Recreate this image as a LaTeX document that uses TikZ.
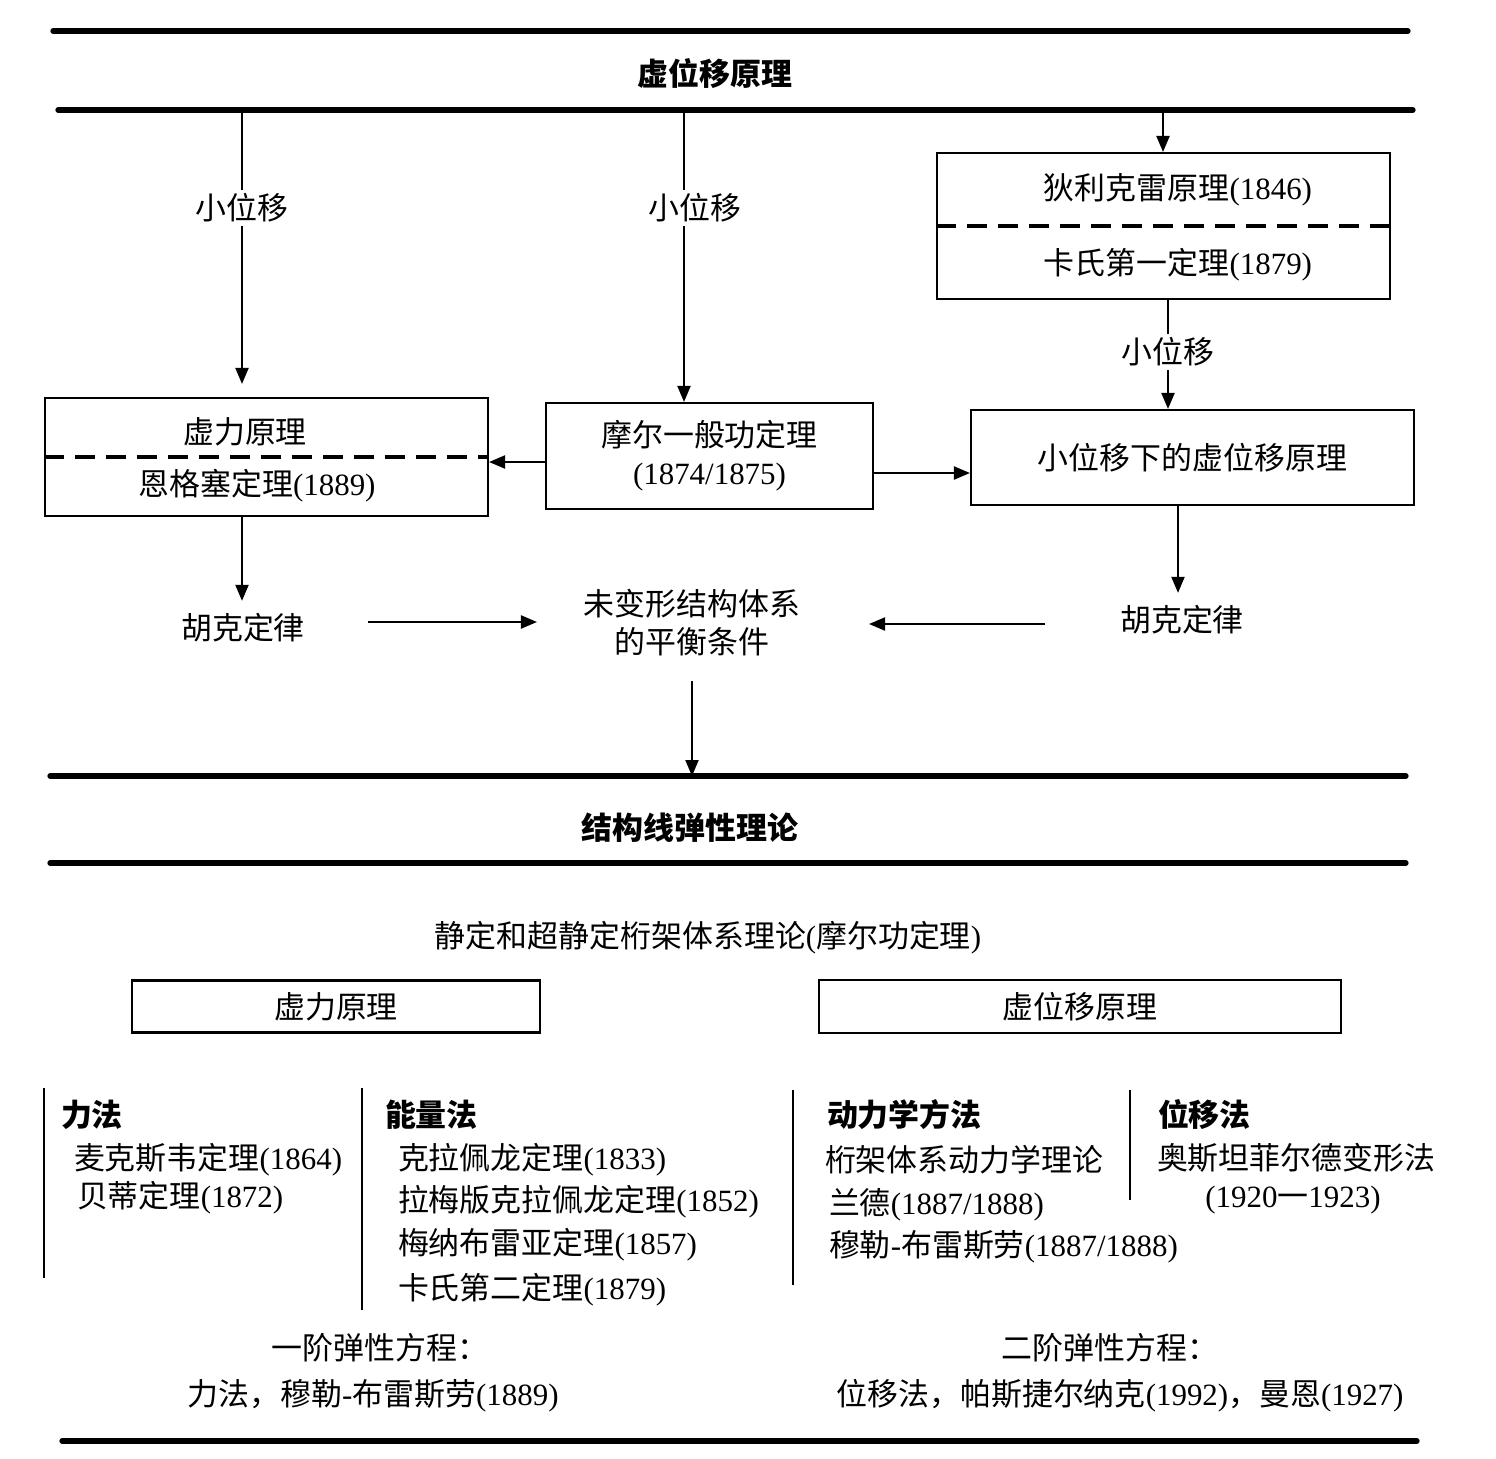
\documentclass[tikz,border=0pt]{standalone}
\usepackage{fontspec}
\setmainfont{Liberation Serif}
\newfontfamily\cjk{Noto Sans CJK SC}
\newcommand{\zh}[1]{{\cjk #1}}
\usetikzlibrary{arrows.meta}

\begin{document}
\begin{tikzpicture}[x=0.1mm, y=-0.1mm,
    >={Triangle[length=1.6mm, width=1.3mm]},
    font=\fontsize{8.8pt}{10.8pt}\selectfont, line width=0.6pt,
    rule/.style={line width=1.5pt, line cap=round},
    title/.style={font=\fontsize{8.8pt}{10.8pt}\selectfont\bfseries},
    divider/.style={line width=1.2pt, dash pattern=on 2mm off 1.1mm},
    item/.style={anchor=west, inner sep=0pt},
    lbl/.style={fill=white, inner sep=1pt}]
    \useasboundingbox (0,0) rectangle (1496,1459);

    % top band
    \draw [rule] (53,31) -- (1408,31);
    \path (715,74) node [title] (vp) {\zh{虚位移原理}};
    \draw [rule] (58,110) -- (1413,110);
    \path (242,110) coordinate (s1) (684,110) coordinate (s2) (1163,110) coordinate (s3);

    % boxes
    \path (266.5,457) node [draw, minimum width=44.3mm, minimum height=11.8mm] (vl) {};
    \draw [divider] (vl.west) -- (vl.east);
    \path (245,432) node (vl1) {\zh{虚力原理}};
    \path (257,486) node (vl2) {\zh{恩格塞定理}(1889)};

    \path (709.5,456) node [draw, minimum width=32.7mm, minimum height=10.6mm,
	align=center] (mo) {\zh{摩尔一般功定理}\\(1874/1875)};

    \path (1163.5,226) node [draw, minimum width=45.3mm, minimum height=14.6mm] (di) {};
    \draw [divider] (di.west) -- (di.east);
    \path (1178,190) node (di1) {\zh{狄利克雷原理}(1846)};
    \path (1178,265) node (di2) {\zh{卡氏第一定理}(1879)};

    \path (1192.5,457.5) node [draw, minimum width=44.3mm, minimum height=9.5mm] (sv)
	{\zh{小位移下的虚位移原理}};

    % arrows from the top
    \draw [->] (s1) -- ([yshift=1.3mm]s1 |- vl.north);
    \path (242,208) node [lbl] {\zh{小位移}};
    \draw [->] (s2) -- (s2 |- mo.north);
    \path (695,208) node [lbl] {\zh{小位移}};
    \draw [->] (s3) -- (s3 |- di.north);
    \draw [->] ([xshift=0.5mm]s3 |- di.south) -- ([xshift=0.5mm]s3 |- sv.north);
    \path (1168,352) node [lbl] {\zh{小位移}};

    \draw [->] ([yshift=-0.6mm]mo.west) -- ([yshift=-0.6mm]mo.west -| vl.east);
    \draw [->] ([yshift=-1.7mm]mo.east) -- ([yshift=-1.7mm]mo.east -| sv.west);

    % equilibrium
    \path (243,628) node (hl) {\zh{胡克定律}};
    \path (1182,620) node (hr) {\zh{胡克定律}};
    \path (692,623) node [align=center] (eq) {\zh{未变形结构体系}\\\zh{的平衡条件}};
    \draw [->] (242,516) -- (hl.north -| 242,0);
    \draw [->] (1178,505) -- (hr.north -| 1178,0);
    \draw [->, shorten <=5mm, shorten >=3.4mm] (hl.east |- 0,622) -- (eq.west |- 0,622);
    \draw [->, shorten <=6.2mm, shorten >=5.6mm] (hr.west |- 0,624) -- (eq.east |- 0,624);

    % middle band
    \draw [rule] (50,776) -- (1406,776);
    \coordinate (r3) at (692,776);
    \draw [->, shorten <=1.2mm] (eq.south -| r3) -- (r3);
    \path (690,828) node [title] (sl) {\zh{结构线弹性理论}};
    \draw [rule] (50,863) -- (1406,863);

    % lower part
    \path (708,938) node (tr) {\zh{静定和超静定桁架体系理论}(\zh{摩尔功定理})};
    \path (336,1006.5) node [draw, minimum width=40.8mm, minimum height=4.9mm] (vf)
	{\zh{虚力原理}};
    \path (1080,1006.5) node [draw, minimum width=52.2mm, minimum height=4.9mm] (vd)
	{\zh{虚位移原理}};

    \draw [line width=0.8pt] (44,1088) -- (44,1278);
    \draw [line width=0.8pt] (362,1088) -- (362,1310);
    \draw [line width=0.8pt] (793,1090) -- (793,1285);
    \draw [line width=0.8pt] (1130,1090) -- (1130,1200);

    \path (60,1115) node [item, title] (fm) {\zh{力法}};
    \path (73,1160) node [item] (fm1) {\zh{麦克斯韦定理}(1864)};
    \path (76,1198) node [item] (fm2) {\zh{贝蒂定理}(1872)};

    \path (384,1115) node [item, title] (em) {\zh{能量法}};
    \path (397,1160) node [item] (em1) {\zh{克拉佩龙定理}(1833)};
    \path (397,1202) node [item] (em2) {\zh{拉梅版克拉佩龙定理}(1852)};
    \path (397,1245) node [item] (em3) {\zh{梅纳布雷亚定理}(1857)};
    \path (397,1290) node [item] (em4) {\zh{卡氏第二定理}(1879)};

    \path (826,1115) node [item, title] (dm) {\zh{动力学方法}};
    \path (824,1160) node [item] (dm1) {\zh{桁架体系动力学理论}};
    \path (828,1205) node [item] (dm2) {\zh{兰德}(1887/1888)};
    \path (828,1247) node [item] (dm3) {\zh{穆勒}-\zh{布雷斯劳}(1887/1888)};

    \path (1157,1115) node [item, title] (pm) {\zh{位移法}};
    \path (1156,1158) node [item] (pm1) {\zh{奥斯坦菲尔德变形法}};
    \path (1293,1200) node (pm2) {(1920\zh{一}1923)};

    \path (380,1348) node (o1) {\zh{一阶弹性方程：}};
    \path (373,1396) node (o1a) {\zh{力法，穆勒}-\zh{布雷斯劳}(1889)};
    \path (1110,1348) node (o2) {\zh{二阶弹性方程：}};
    \path (1120,1396) node (o2a) {\zh{位移法，帕斯捷尔纳克}(1992)\zh{，曼恩}(1927)};

    \draw [rule] (62,1441) -- (1417,1441);
\end{tikzpicture}
\end{document}
